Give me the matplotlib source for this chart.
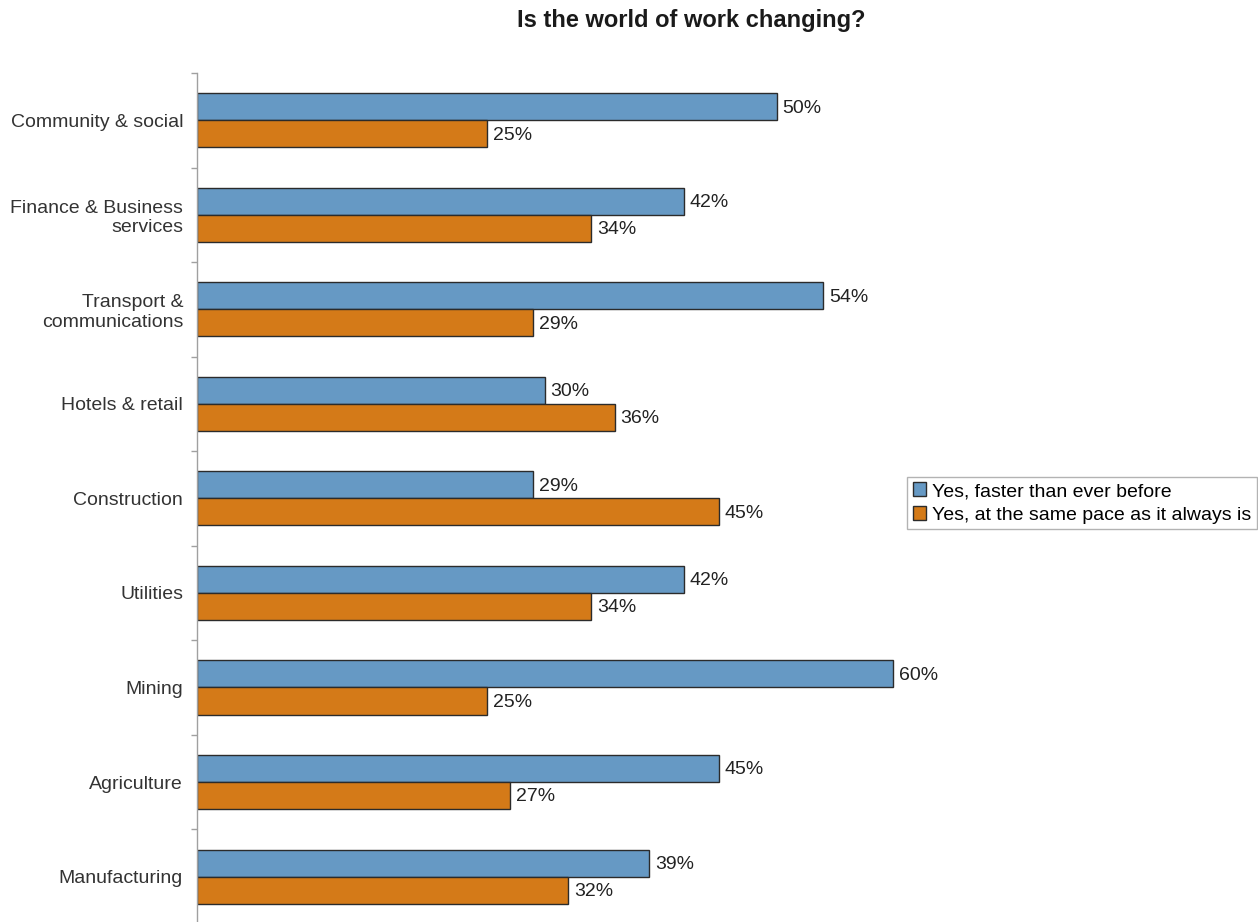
import matplotlib
matplotlib.use('Agg')
import matplotlib.pyplot as plt
import numpy as np

plt.rcParams['font.family'] = ['Liberation Sans', 'DejaVu Sans']

# datos
categorias = ["Community & social", "Finance & Business\nservices", "Transport &\ncommunications",
              "Hotels & retail", "Construction", "Utilities", "Mining", "Agriculture", "Manufacturing"]
mas_rapido = [50, 42, 54, 30, 29, 42, 60, 45, 39]
mismo_ritmo = [25, 34, 29, 36, 45, 34, 25, 27, 32]
series = ["Yes, faster than ever before", "Yes, at the same pace as it always is"]

AZUL = '#6699C4'
NARANJA = '#D47A18'
W, H = 1258, 922

fig = plt.figure(figsize=(W / 100, H / 100), dpi=100)
ax = fig.add_axes([197 / W, -0.002, (1009 - 197) / W, 1 - 73 / H + 0.002])

y = np.arange(len(categorias))
alto = 0.286
b1 = ax.barh(y - alto / 2, mas_rapido, height=alto, color=AZUL, edgecolor='#2b2b2b',
             linewidth=1.0, label=series[0])
b2 = ax.barh(y + alto / 2, mismo_ritmo, height=alto, color=NARANJA, edgecolor='#2b2b2b',
             linewidth=1.0, label=series[1])

for barras in (b1, b2):
    for b in barras:
        ax.annotate(f"{b.get_width():.0f}%", (b.get_width(), b.get_y() + b.get_height() / 2),
                    xytext=(4, -1), textcoords='offset points', va='center', ha='left',
                    fontsize=14, color='#222222')

ax.set_xlim(0, 70)
ax.set_ylim(len(categorias) - 0.5, -0.5)

for s in ['top', 'right', 'bottom']:
    ax.spines[s].set_visible(False)
ax.spines['left'].set_color('#a0a0a0')
ax.spines['left'].set_linewidth(1.0)
ax.set_xticks([])

ax.set_yticks(np.arange(-0.5, len(categorias) + 0.5, 1))
ax.set_yticklabels([])
ax.tick_params(axis='y', which='major', length=4.5, color='#a0a0a0', width=1.0)
ax.set_yticks(y, minor=True)
ax.set_yticklabels(categorias, minor=True, fontsize=14, color='#333333', ha='right')
ax.tick_params(axis='y', which='minor', length=0, pad=10)

fig.text(691 / W, 1 - 27 / H, "Is the world of work changing?", ha='center', va='baseline',
         fontsize=17, fontweight='bold', color='#1a1a1a')

leg = fig.legend(handles=[b1, b2], labels=series, loc='center left',
                 bbox_to_anchor=(907 / W, 1 - 503 / H), bbox_transform=fig.transFigure,
                 fontsize=14, frameon=True, fancybox=False, borderaxespad=0,
                 handlelength=0.7, handleheight=0.7, handletextpad=0.3,
                 borderpad=0.3, labelspacing=0.3)
leg.get_frame().set_edgecolor('#a0a0a0')
leg.get_frame().set_linewidth(1.0)

plt.savefig('out.png', dpi=100)
plt.close()
